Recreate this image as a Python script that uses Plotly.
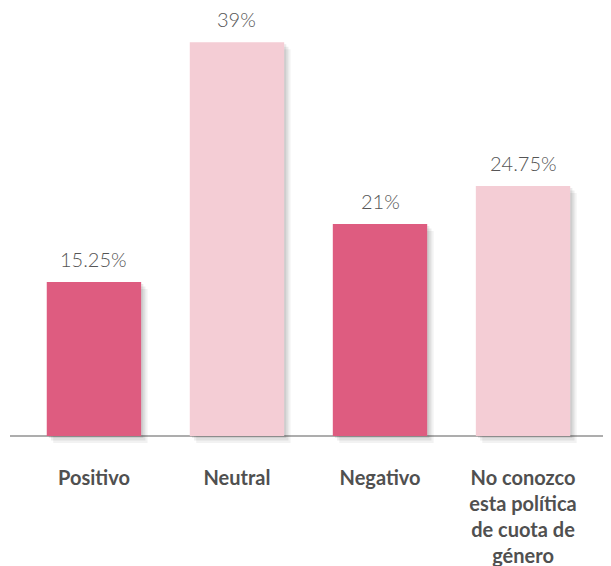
import plotly.graph_objects as go

categories = ["Positivo", "Neutral", "Negativo", "No conozco<br>esta política<br>de cuota de<br>género"]
values = [15.25, 39, 21, 24.75]
value_labels = ["15.25%", "39%", "21%", "24.75%"]
colors = ["#DE5C80", "#F4CDD5", "#DE5C80", "#F4CDD5"]

fig = go.Figure()
# soft shadow layers
for dx, base, alpha in [(0.045, -0.7, 0.05), (0.03, -0.45, 0.07), (0.015, -0.2, 0.08)]:
    fig.add_trace(go.Bar(
        x=categories, y=values, base=base, width=0.66, offset=-0.33 + dx,
        marker=dict(color=f"rgba(0,0,0,{alpha})", line=dict(width=0)),
        hoverinfo="skip", showlegend=False,
    ))
fig.add_trace(go.Bar(
    x=categories, y=values, width=0.66, offset=-0.33,
    marker=dict(color=colors, line=dict(width=0)),
    hoverinfo="skip", showlegend=False,
))

for c, v, t in zip(categories, values, value_labels):
    fig.add_annotation(x=c, y=v, text=t, showarrow=False, yanchor="middle", yshift=23,
                       font=dict(family="Lato", size=20, color="#555555", weight=300))

fig.update_layout(
    width=611, height=566,
    margin=dict(l=2, r=0, t=0, b=130),
    barmode="overlay",
    plot_bgcolor="white", paper_bgcolor="white",
    xaxis=dict(range=[-0.587, 3.671], showline=False, showgrid=False, ticks="",
               automargin=False,
               tickfont=dict(family="Lato", size=20, color="#505050", weight="bold"),
               ticklabelstandoff=20),
    yaxis=dict(range=[-0.8, 42.38], showgrid=False, showticklabels=False, showline=False,
               automargin=False,
               zeroline=True, zerolinecolor="#ADADAD", zerolinewidth=2),
)

fig.write_html("out.html")
